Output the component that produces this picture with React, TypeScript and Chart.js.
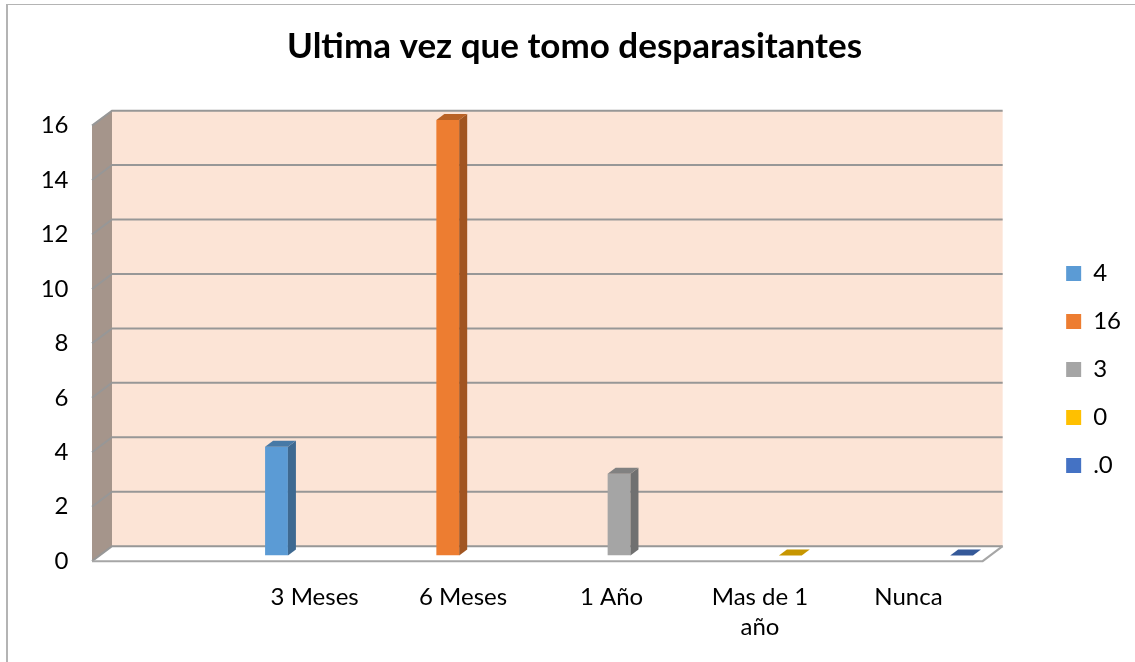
import React, { useEffect, useRef } from "react";
import { Chart, registerables } from "chart.js";

Chart.register(...registerables);

// ---------- data ----------
const categories: (string | string[])[] = ["", "3 Meses", "6 Meses", "1 Año", ["Mas de 1", "año"], "Nunca"];
const seriesLabels = ["4", "16", "3", "0", ".0"];
const seriesA = [null, 4, null, null, null, null];
const seriesB = [null, null, 16, null, null, null];
const seriesC = [null, null, null, 3, null, null];
const seriesD = [null, null, null, null, 0, null];
const seriesE = [null, null, null, null, null, 0];
const seriesColors = ["#5B9BD5", "#ED7D31", "#A5A5A5", "#FFC000", "#4472C4"];
const yMin = 0;
const yMax = 16;
const yStep = 2;
const chartTitle = "Ultima vez que tomo desparasitantes";

// ---------- style ----------
const FONT = "Lato, 'Open Sans', sans-serif";
const DEPTH_X = 20;
const DEPTH_Y = 15;
const BAR_FRONT = 0.375;
const BAR_DX = 8;
const BAR_DY = 6;

function shade(hex: string, f: number) {
  const n = parseInt(hex.slice(1), 16);
  const r = Math.round(((n >> 16) & 255) * f);
  const g = Math.round(((n >> 8) & 255) * f);
  const b = Math.round((n & 255) * f);
  return `rgb(${r},${g},${b})`;
}

function poly(ctx: CanvasRenderingContext2D, pts: number[][]) {
  ctx.beginPath();
  ctx.moveTo(pts[0][0], pts[0][1]);
  for (let i = 1; i < pts.length; i++) ctx.lineTo(pts[i][0], pts[i][1]);
  ctx.closePath();
}

const framePlugin = {
  id: "frame",
  beforeDraw(chart: any) {
    const { ctx } = chart;
    ctx.save();
    ctx.strokeStyle = "#B4B4B4";
    ctx.lineWidth = 2;
    ctx.beginPath();
    ctx.moveTo(7, 4);
    ctx.lineTo(7, 662);
    ctx.stroke();
    ctx.lineWidth = 1.2;
    ctx.beginPath();
    ctx.moveTo(6, 4.5);
    ctx.lineTo(1135, 4.5);
    ctx.stroke();
    ctx.restore();
  },
};

const wallsPlugin = {
  id: "walls3d",
  beforeDatasetsDraw(chart: any) {
    const { ctx, chartArea: ca, scales } = chart;
    const ys = scales.y;
    const fx = -DEPTH_X * BAR_FRONT;
    const fy = DEPTH_Y * BAR_FRONT;
    const bx = DEPTH_X * (1 - BAR_FRONT);
    const by = -DEPTH_Y * (1 - BAR_FRONT);
    const top = ys.getPixelForValue(yMax);
    const bot = ys.getPixelForValue(yMin);
    const L = ca.left;
    const R = ca.right;
    ctx.save();
    // back wall
    ctx.fillStyle = "#FCE4D6";
    ctx.fillRect(L + bx, top + by, R - L, bot - top);
    // left side wall
    ctx.fillStyle = "#A5958B";
    poly(ctx, [[L + bx, top + by], [L + bx, bot + by], [L + fx, bot + fy], [L + fx, top + fy]]);
    ctx.fill();
    // floor
    ctx.fillStyle = "#FFFFFF";
    poly(ctx, [[L + bx, bot + by], [R + bx, bot + by], [R + fx, bot + fy], [L + fx, bot + fy]]);
    ctx.fill();
    // gridlines
    ctx.strokeStyle = "#979797";
    ctx.lineWidth = 2;
    ys.ticks.forEach((t: any) => {
      const p = ys.getPixelForValue(t.value);
      ctx.beginPath();
      ctx.moveTo(L + fx, p + fy);
      ctx.lineTo(L + bx, p + by);
      ctx.lineTo(R + bx, p + by);
      ctx.stroke();
    });
    // floor outline
    ctx.strokeStyle = "#A6A6A6";
    ctx.beginPath();
    ctx.moveTo(L + fx, bot + fy);
    ctx.lineTo(R + fx, bot + fy);
    ctx.lineTo(R + bx, bot + by);
    ctx.stroke();
    ctx.restore();
  },
};

const bars3dPlugin = {
  id: "bars3d",
  afterDatasetsDraw(chart: any) {
    const { ctx } = chart;
    ctx.save();
    chart.data.datasets.forEach((ds: any, di: number) => {
      const meta = chart.getDatasetMeta(di);
      const col = seriesColors[di];
      meta.data.forEach((el: any, i: number) => {
        const v = ds.data[i];
        if (v === null || v === undefined) return;
        const { x, y, base, width } = el.getProps(["x", "y", "base", "width"], true);
        const l = x - width / 2;
        const r = x + width / 2;
        // side
        if (base - y > 0.5) {
          ctx.fillStyle = shade(col, 0.68);
          poly(ctx, [[r, y], [r + BAR_DX, y - BAR_DY], [r + BAR_DX, base - BAR_DY], [r, base]]);
          ctx.fill();
        }
        // top
        ctx.fillStyle = shade(col, 0.78);
        poly(ctx, [[l, y], [l + BAR_DX, y - BAR_DY], [r + BAR_DX, y - BAR_DY], [r, y]]);
        ctx.fill();
      });
    });
    ctx.restore();
  },
};

export default function App() {
  const ref = useRef<HTMLCanvasElement | null>(null);

  useEffect(() => {
    if (!ref.current) return;
    const allSeries = [seriesA, seriesB, seriesC, seriesD, seriesE];
    const chart = new Chart(ref.current, {
      type: "bar",
      data: {
        labels: categories as any,
        datasets: allSeries.map((d, i) => ({
          label: seriesLabels[i],
          data: d as any,
          backgroundColor: seriesColors[i],
          borderWidth: 0,
          categoryPercentage: 0.769,
          barPercentage: 1,
        })),
      },
      options: {
        responsive: false,
        animation: false,
        layout: { padding: { left: 18, right: 4, top: 0, bottom: 0 } },
        plugins: {
          title: {
            display: true,
            text: chartTitle,
            color: "#000",
            font: { family: FONT, size: 35, weight: "bold", lineHeight: 1.2 },
            padding: { top: 26, bottom: 52 },
          },
          legend: {
            position: "right",
            fullSize: false,
            align: "center",
            title: { display: true, text: "", padding: { top: 62.5, bottom: 0 }, font: { size: 1, lineHeight: 1 } },
            labels: {
              color: "#000",
              font: { family: FONT, size: 24 },
              boxWidth: 15,
              boxHeight: 15,
              padding: 24,
            },
          },
          tooltip: { enabled: false },
        },
        scales: {
          x: {
            grid: { display: false, drawTicks: false },
            border: { display: false },
            ticks: {
              color: "#000",
              font: { family: FONT, size: 24, lineHeight: 1.25 },
              padding: 26.5,
              labelOffset: -7.5,
              maxRotation: 0,
              autoSkip: false,
            },
            afterFit: (s: any) => {
              s.height = 106.5;
            },
          },
          y: {
            min: yMin,
            max: yMax,
            ticks: {
              stepSize: yStep,
              color: "#000",
              font: { family: FONT, size: 24 },
              padding: 31,
              labelOffset: 5.6,
            },
            grid: { display: false, drawTicks: false },
            border: { display: false },
            afterFit: (s: any) => {
              s.width = 81.5;
            },
          },
          y2: {
            position: "right",
            display: true,
            grid: { display: false, drawTicks: false },
            border: { display: false },
            ticks: { display: false },
            afterFit: (s: any) => {
              s.width = 52;
            },
          },
        },
      } as any,
      plugins: [framePlugin, wallsPlugin, bars3dPlugin],
    });
    return () => chart.destroy();
  }, []);

  return (
    <div style={{ position: "absolute", left: 0, top: 0, width: 1135, height: 662, background: "#fff" }}>
      <canvas ref={ref} width={1135} height={662} style={{ display: "block" }} />
    </div>
  );
}
